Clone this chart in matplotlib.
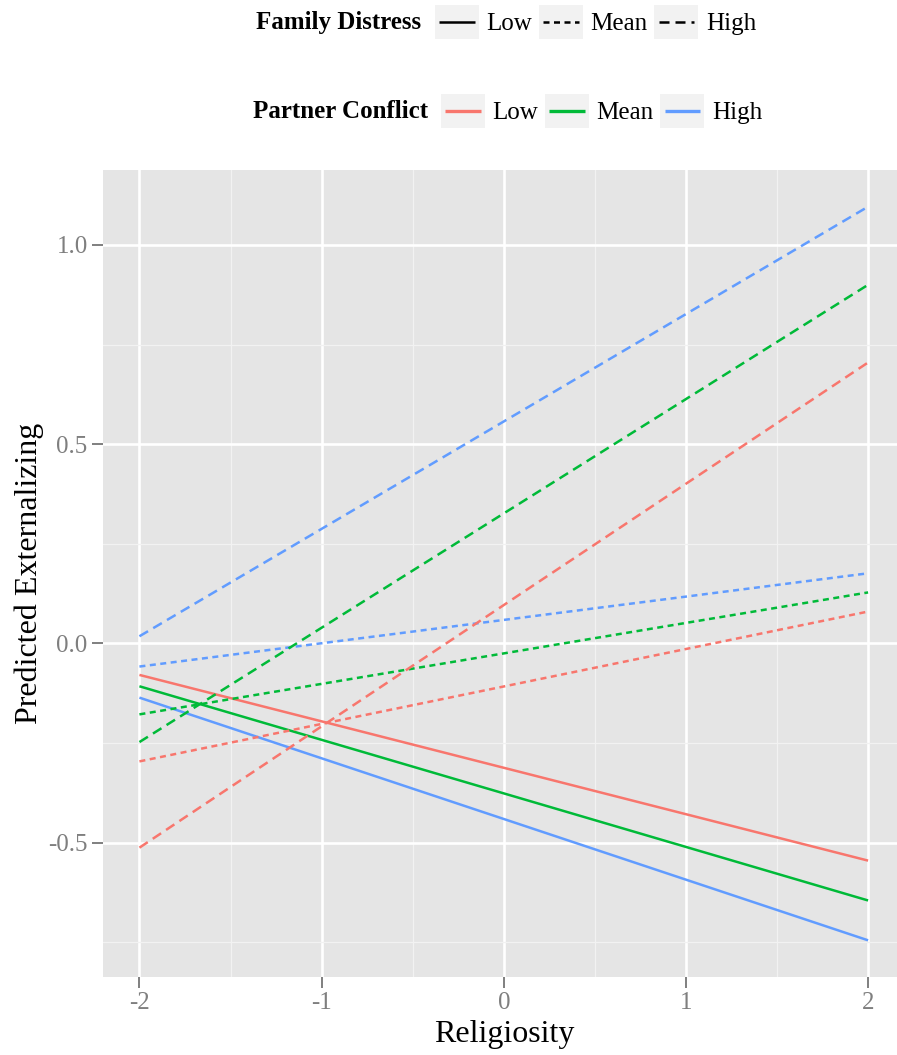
import numpy as np
import matplotlib
matplotlib.use("Agg")
import matplotlib.pyplot as plt
from matplotlib.lines import Line2D
from matplotlib.patches import Rectangle

plt.rcParams['font.family'] = ['Liberation Serif', 'DejaVu Serif']

# data: predicted values at religiosity = -2 and 2
religiosity = [-2, 2]
conflict_levels = ['Low', 'Mean', 'High']
distress_levels = ['Low', 'Mean', 'High']
# one row per partner-conflict level (Low, Mean, High)
fd_low = [[-0.079, -0.545], [-0.1075, -0.645], [-0.136, -0.745]]
fd_mean = [[-0.296, 0.080], [-0.178, 0.128], [-0.058, 0.176]]
fd_high = [[-0.5125, 0.705], [-0.2475, 0.900], [0.018, 1.096]]

colors = ['#F8766D', '#00BA38', '#619CFF']
dashes = {'Low': None, 'Mean': (2.4, 1.8), 'High': (4.0, 2.4)}
LW = 1.8

W, H = 897, 1055
fig = plt.figure(figsize=(W / 100, H / 100), dpi=100)
ax = fig.add_axes([103 / W, (H - 977) / H, (904.5 - 103) / W, (977 - 170) / H])

ax.set_facecolor('#E5E5E5')
for s in ax.spines.values():
    s.set_visible(False)

for fd, rows in zip(distress_levels, [fd_low, fd_mean, fd_high]):
    for col, vals in zip(colors, rows):
        ln, = ax.plot(religiosity, vals, color=col, lw=LW, solid_capstyle='butt')
        if dashes[fd] is not None:
            ln.set_dashes(dashes[fd])

ax.set_xlim(-2.2, 2.2)
ax.margins(y=0.05)
ax.set_xticks([-2, -1, 0, 1, 2])
ax.set_xticklabels(['-2', '-1', '0', '1', '2'])
ax.set_yticks([-0.5, 0.0, 0.5, 1.0])
ax.set_yticklabels(['-0.5', '0.0', '0.5', '1.0'])
ax.set_xticks([-1.5, -0.5, 0.5, 1.5], minor=True)
ax.set_yticks([-0.75, -0.25, 0.25, 0.75], minor=True)
ax.grid(True, which='major', color='white', lw=1.9)
ax.grid(True, which='minor', color='#F2F2F2', lw=0.9)
ax.set_axisbelow(True)
ax.tick_params(which='major', length=8, width=1.4, color='#7F7F7F',
               labelcolor='#7F7F7F', labelsize=18, pad=3)
ax.tick_params(which='minor', length=0)

ax.set_xlabel('Religiosity', fontsize=23, labelpad=4)
ax.set_ylabel('Predicted Externalizing', fontsize=23, labelpad=3)


class KeyHandler:
    def legend_artist(self, legend, orig_handle, fontsize, handlebox):
        x0, y0 = -handlebox.xdescent, -handlebox.ydescent
        w, h = handlebox.width, handlebox.height
        bg = Rectangle((x0, y0), w, h, facecolor='#F2F2F2', edgecolor='none',
                       transform=handlebox.get_transform())
        ln = Line2D([x0 + 0.1 * w, x0 + 0.9 * w], [y0 + h / 2] * 2,
                    color=orig_handle.get_color(), lw=orig_handle.get_linewidth(),
                    solid_capstyle='butt', transform=handlebox.get_transform())
        if id(orig_handle) in dashes_raw:
            ln.set_dashes(dashes_raw[id(orig_handle)])
        handlebox.add_artist(bg)
        handlebox.add_artist(ln)
        return ln


dashes_raw = {}
fd_handles = []
for fd in distress_levels:
    h = Line2D([], [], color='black', lw=LW)
    if dashes[fd] is not None:
        h.set_dashes(dashes[fd])
        dashes_raw[id(h)] = dashes[fd]
    fd_handles.append(h)
pc_handles = [Line2D([], [], color=c, lw=LW + 0.6) for c in colors]

legend_kw = dict(ncol=3, frameon=False, fontsize=18, handlelength=1.76,
                 handleheight=1.76, handletextpad=0.3, columnspacing=0.27,
                 borderpad=0, borderaxespad=0, loc='center left',
                 handler_map={Line2D: KeyHandler()})

y1 = 1 - 22 / H
y2 = 1 - 111 / H
fig.legend(fd_handles, distress_levels, bbox_to_anchor=(435 / W, y1), **legend_kw)
fig.legend(pc_handles, conflict_levels, bbox_to_anchor=(441 / W, y2), **legend_kw)
fig.text(421 / W, y1, 'Family Distress', ha='right', va='center',
         fontsize=18, fontweight='bold')
fig.text(428 / W, y2, 'Partner Conflict', ha='right', va='center',
         fontsize=18, fontweight='bold')

fig.savefig('out.png', dpi=100)
